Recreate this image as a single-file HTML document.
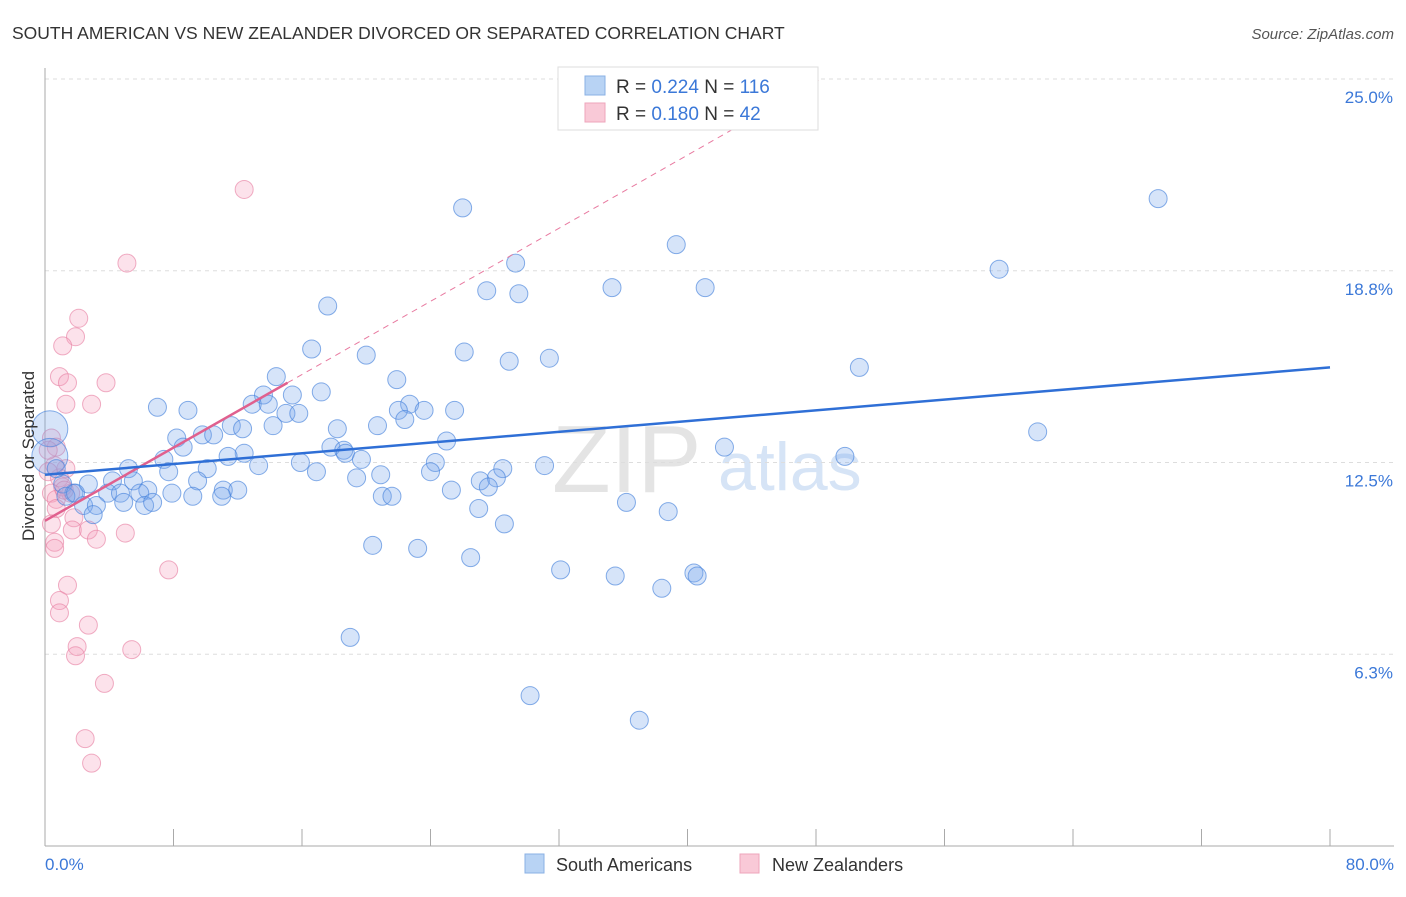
<!DOCTYPE html>
<html><head><meta charset="utf-8"><style>
body{margin:0;background:#fff;font-family:"Liberation Sans",sans-serif;}
svg text{font-family:"Liberation Sans",sans-serif;}
</style></head><body>
<svg id="chart" width="1406" height="892" xmlns="http://www.w3.org/2000/svg">
<text x="12" y="39" font-size="17.5" fill="#333">SOUTH AMERICAN VS NEW ZEALANDER DIVORCED OR SEPARATED CORRELATION CHART</text>
<text x="1394" y="39" font-size="15" fill="#555" text-anchor="end" font-style="italic">Source: ZipAtlas.com</text>
<g>
<text x="552" y="492" font-size="96" fill="#e4e4e4" font-family="Liberation Serif" >ZIP</text>
<text x="718" y="490" font-size="68" fill="#d6e4f6">atlas</text>
</g>
<g id="grid"></g>
<g id="axes"></g>
<g id="marks"></g>
<text transform="translate(34,456) rotate(-90)" font-size="17" fill="#333" text-anchor="middle">Divorced or Separated</text>
<g>
<rect x="558" y="67" width="260" height="63" fill="#fff" stroke="#ddd"/>
<rect x="585" y="76" width="20" height="19" fill="#b8d3f4" stroke="#8ab0e4"/>
<text x="616" y="93" font-size="19" fill="#333">R = <tspan fill="#3b78d8">0.224</tspan>   N = <tspan fill="#3b78d8">116</tspan></text>
<rect x="585" y="103" width="20" height="19" fill="#f9c9d7" stroke="#eea5bb"/>
<text x="616" y="120" font-size="19" fill="#333">R =  <tspan fill="#3b78d8">0.180</tspan>   N =  <tspan fill="#3b78d8">42</tspan></text>
</g>
<g>
<rect x="525" y="854" width="19" height="19" fill="#b8d3f4" stroke="#8ab0e4"/>
<text x="556" y="871" font-size="18" fill="#333">South Americans</text>
<rect x="740" y="854" width="19" height="19" fill="#f9c9d7" stroke="#eea5bb"/>
<text x="772" y="871" font-size="18" fill="#333">New Zealanders</text>
</g>
</svg>
<script>
const yTicks=[6.25,12.5,18.75,25];
const yTickLabels=["6.3%","12.5%","18.8%","25.0%"];
const xTickLabels=["0.0%","80.0%"];
const blueX=[69.3,26.0,39.3,29.3,59.4,35.3,41.1,27.5,29.5,17.6,16.6,20.0,26.1,31.4,28.9,50.7,14.4,21.9,13.6,15.4,17.2,12.9,13.9,15.0,15.8,7.0,8.9,22.7,22.0,23.6,25.5,20.7,22.4,18.2,14.2,11.6,12.3,8.2,9.8,10.5,8.6,61.8,25.0,42.3,17.8,18.6,18.7,12.4,11.4,7.4,15.9,19.7,13.3,24.3,5.2,7.7,10.1,16.9,31.1,28.5,49.8,24.0,19.4,20.9,28.1,2.7,4.2,5.5,9.5,27.1,27.6,11.1,12.0,25.3,6.4,1.1,1.8,3.9,4.7,5.9,7.9,9.2,11.0,21.0,21.6,1.3,2.4,3.2,4.9,6.2,6.7,36.2,27.0,38.8,3.0,28.6,20.4,23.2,26.5,32.1,35.5,40.4,40.6,38.4,19.0,30.2,37.0,0.3,0.3,0.7,1.9];
const blueY=[21.1,20.8,19.6,19.0,18.8,18.2,18.2,18.1,18.0,17.6,16.2,16.0,16.1,15.9,15.8,15.6,15.3,15.2,14.7,14.7,14.8,14.4,14.4,14.1,14.1,14.3,14.2,14.4,14.2,14.2,14.2,13.7,13.9,13.6,13.7,13.7,13.6,13.3,13.4,13.4,13.0,13.5,13.2,13.0,13.0,12.9,12.8,12.8,12.7,12.6,12.5,12.6,12.4,12.5,12.3,12.2,12.3,12.2,12.4,12.3,12.7,12.2,12.0,12.1,12.0,11.8,11.9,11.9,11.9,11.9,11.7,11.6,11.6,11.6,11.6,11.8,11.5,11.5,11.5,11.5,11.5,11.4,11.4,11.4,11.4,11.4,11.1,11.1,11.2,11.1,11.2,11.2,11.0,10.9,10.8,10.5,9.8,9.7,9.4,9.0,8.8,8.9,8.8,8.4,6.8,4.9,4.1,13.6,12.7,12.3,11.5];
const blueSize=blueX.map((v,i)=> i===blueX.length-4||i===blueX.length-3 ? 18 : 9);
const pinkX=[12.4,5.1,2.1,1.9,1.1,0.9,1.4,3.8,1.3,2.9,0.4,0.7,1.3,0.9,1.1,0.4,1.6,0.7,0.7,1.8,0.4,1.7,2.7,3.2,5.0,0.6,0.6,7.7,1.4,0.9,0.9,2.7,2.0,5.4,1.9,3.7,2.5,2.9,0.6,0.2,0.2,1.2];
const pinkY=[21.4,19.0,17.2,16.6,16.3,15.3,15.1,15.1,14.4,14.4,13.3,13.0,12.3,12.0,11.7,11.5,11.5,11.3,11.0,10.7,10.5,10.3,10.3,10.0,10.2,9.9,9.7,9.0,8.5,8.0,7.6,7.2,6.5,6.4,6.2,5.3,3.5,2.7,12.4,12.9,12.2,11.6];
const blueTrend=[12.1,15.6];   // y at x=0 and x=80
const pinkTrend=[10.6,0.298];  // intercept, slope
const pinkSolidEnd=15.1;

const X0=45,X1=1330,Y0=846,Y1=79;
const sx=v=>X0+(v/80)*(X1-X0);
const sy=v=>Y0-(v/25)*(Y0-Y1);
const NS="http://www.w3.org/2000/svg";
function mk(tag,attrs,parent){const e=document.createElementNS(NS,tag);for(const k in attrs)e.setAttribute(k,attrs[k]);parent.appendChild(e);return e;}
const grid=document.getElementById('grid'),axes=document.getElementById('axes'),marks=document.getElementById('marks');
yTicks.forEach((t,i)=>{
  const l=mk('line',{x1:X0,x2:1394,y1:sy(t),y2:sy(t),stroke:'#ddd','stroke-dasharray':'4,4'},grid);
  
  
  const tx=mk('text',{x:1393,y:sy(t)+24,'font-size':17,fill:'#3b78d8','text-anchor':'end'},axes);
  tx.textContent=yTickLabels[i];
  
  
});
const ax=mk('line',{x1:X0,x2:X0,y1:68,y2:Y0,stroke:'#aaa'},axes);


const bx=mk('line',{x1:X0,x2:1394,y1:Y0,y2:Y0,stroke:'#aaa'},axes);


for(let i=0;i<=10;i++){
  const t=mk('line',{x1:sx(i*8),x2:sx(i*8),y1:829,y2:Y0,stroke:'#aaa'},axes);
  
  
}
[[0,'start',45],[80,'end',1394]].forEach((d,i)=>{
  const t=mk('text',{x:d[2],y:870,'font-size':17,fill:'#3b78d8','text-anchor':d[1]},axes);
  t.textContent=xTickLabels[i];
  
  
});
pinkX.forEach((x,i)=>{
  const c=mk('circle',{cx:sx(x),cy:sy(pinkY[i]),r:9,fill:'rgba(244,160,190,0.3)',stroke:'rgba(232,130,165,0.65)','stroke-width':1},marks);
  
  
});
blueX.forEach((x,i)=>{
  const c=mk('circle',{cx:sx(x),cy:sy(blueY[i]),r:blueSize[i],fill:'rgba(120,165,235,0.3)',stroke:'rgba(70,130,220,0.65)','stroke-width':1},marks);
  
  
});
const pd=mk('line',{x1:sx(pinkSolidEnd),y1:sy(pinkTrend[0]+pinkTrend[1]*pinkSolidEnd),x2:sx((25-pinkTrend[0])/pinkTrend[1]),y2:sy(25),stroke:'#e87aa0','stroke-width':1,'stroke-dasharray':'6,5'},marks);


const ps=mk('line',{x1:sx(0),y1:sy(pinkTrend[0]),x2:sx(pinkSolidEnd),y2:sy(pinkTrend[0]+pinkTrend[1]*pinkSolidEnd),stroke:'#e0608e','stroke-width':2.5},marks);


const bt=mk('line',{x1:sx(0),y1:sy(blueTrend[0]),x2:sx(80),y2:sy(blueTrend[1]),stroke:'#2f6fd6','stroke-width':2.5},marks);


</script>
</body></html>
